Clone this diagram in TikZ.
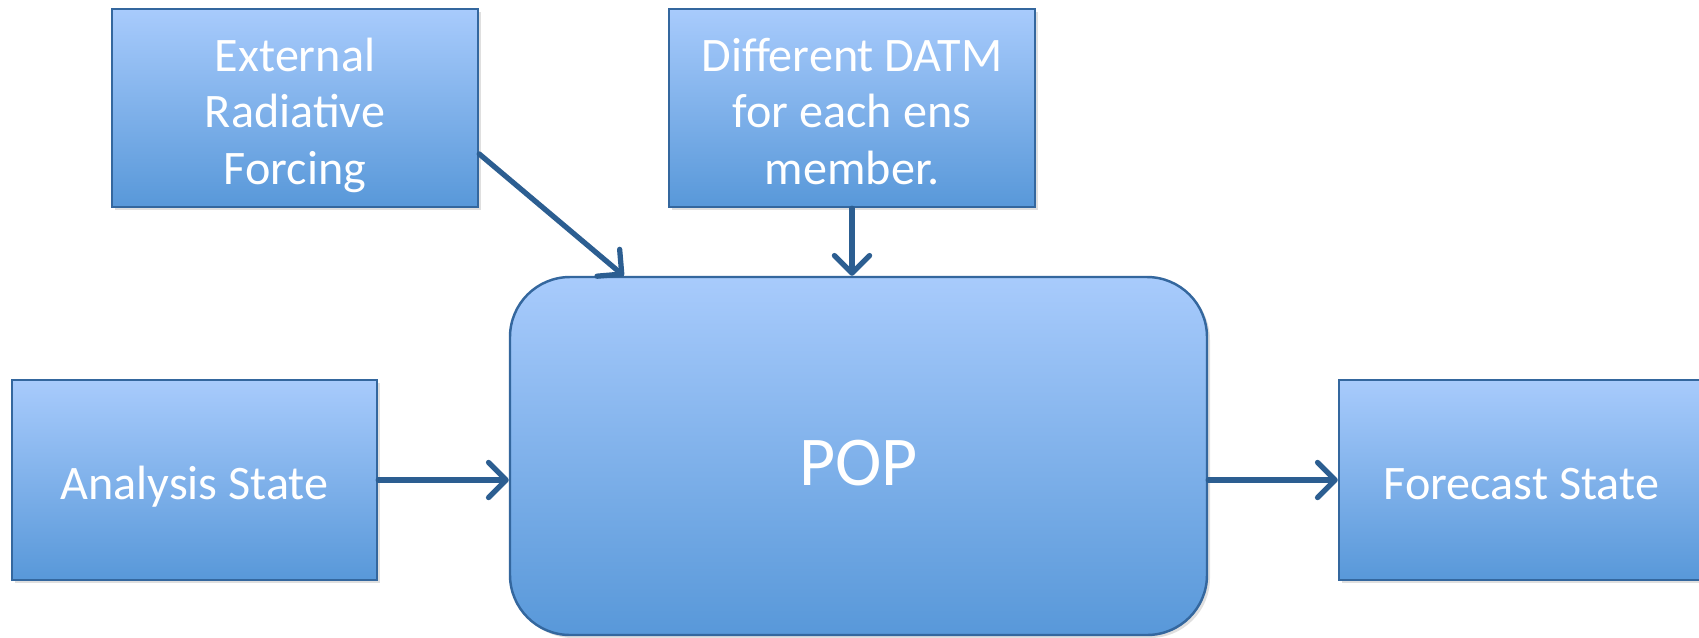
\documentclass[tikz,border=0pt]{standalone}
\usepackage{fontspec}
\setmainfont{Carlito}
\usepackage{tikz}
\usetikzlibrary{arrows.meta,shadows}

\definecolor{boxtop}{HTML}{A8CBFC}
\definecolor{boxbot}{HTML}{5898D9}
\definecolor{boxline}{HTML}{34679E}
\definecolor{arrowblue}{HTML}{2C5E91}
\newcommand{\boxstrut}{\rule[-0.22em]{0pt}{1.27em}}

\begin{document}
\begin{tikzpicture}
\tikzset{
  block/.style={draw=boxline, line width=0.7pt, top color=boxtop, bottom color=boxbot,
    text=white, align=center, inner sep=0pt, minimum width=3.66cm, minimum height=1.98cm,
    font=\fontsize{13.7}{16.1}\selectfont,
    drop shadow={shadow xshift=0.03cm, shadow yshift=-0.03cm, opacity=0.25}},
  feed/.style={draw=arrowblue, line width=1.5pt, line cap=round,
    -{Straight Barb[round, length=5pt, width=10pt]}}
}
\clip (0,0) rectangle (16.99,-6.37);
\fill[white] (0,0) rectangle (16.99,-6.37);
\node[block] (ext) at (2.95,-1.08) {\boxstrut External\\Radiative\\Forcing\boxstrut};
\node[block] (datm) at (8.52,-1.08) {\boxstrut Different DATM\\for each ens\\member.\boxstrut};
\node[block, minimum width=6.97cm, minimum height=3.58cm, rounded corners=0.6cm,
  font=\fontsize{19.9}{22}\selectfont] (pop) at (8.585,-4.56) {\boxstrut POP};
\node[block, minimum width=3.65cm, minimum height=2cm] (ana) at (1.945,-4.80) {\boxstrut Analysis State};
\node[block, minimum width=3.65cm, minimum height=2cm] (fore) at (15.215,-4.80) {\boxstrut Forecast State};
\draw[feed] (ext.-14) -- ([xshift=1.15cm]pop.north west);
\draw[feed] (datm.south) -- (datm.south |- pop.north);
\draw[feed] (ana.east) -- (ana.east -| pop.west);
\draw[feed] (fore.west -| pop.east) -- (fore.west);
\end{tikzpicture}
\end{document}
